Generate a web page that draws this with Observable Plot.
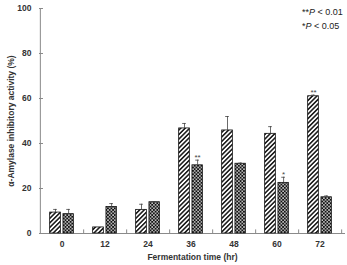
<!DOCTYPE html>
<html><head><meta charset="utf-8">
<script src="https://cdn.jsdelivr.net/npm/d3@7"></script>
<script src="https://cdn.jsdelivr.net/npm/@observablehq/plot@0.6"></script>
<style>
body{margin:0;background:#fff;}
#wrap{position:relative;width:347px;height:265px;}
#note{position:absolute;left:302px;top:5px;font:9px "Liberation Sans",Arial,sans-serif;color:#222;line-height:14px;}
</style>
</head><body>
<div id="wrap"><div id="chart"></div>
<div id="note"><div>**<i>P</i> &lt; 0.01</div><div>*<i>P</i> &lt; 0.05</div></div></div>
<script>
const times = ["0","12","24","36","48","60","72"];
const hatched = [9.3, 2.7, 10.5, 46.7, 45.8, 44.3, 61.0];
const hatchedErr = [1.4, 0, 2.5, 2.2, 6.2, 3.2, 0.5];
const checker = [8.6, 11.8, 13.9, 30.3, 31.0, 22.5, 16.1];
const checkerErr = [2.1, 1.5, 0.3, 2.3, 0.3, 2.5, 0.6];
const sigTime = ["36", "60", "72"];
const sigSeries = ["checker", "checker", "hatched"];
const sigMark = ["**", "*", "**"];
const yTicks = [0, 20, 40, 60, 80, 100];

const rows = [];
times.forEach((t, i) => {
  rows.push({time: t, series: "hatched", v: hatched[i], e: hatchedErr[i]});
  rows.push({time: t, series: "checker", v: checker[i], e: checkerErr[i]});
});
const H = rows.filter(d => d.series === "hatched");
const C = rows.filter(d => d.series === "checker");
const sig = sigTime.map((t, i) => {
  const r = rows.find(d => d.time === t && d.series === sigSeries[i]);
  return {time: t, series: sigSeries[i], top: r.v + r.e, mark: sigMark[i]};
});

const half = (342 - 39) / times.length / 2;
const gray = "#8a8a8a";
const font = "Liberation Sans, Arial, sans-serif";

const svg = Plot.plot({
  width: 347, height: 265,
  marginLeft: 39, marginRight: 2, marginTop: 8, marginBottom: 32,
  style: {fontFamily: font, background: "white"},
  x: {type: "band", domain: times, range: [39, 342], padding: 0, label: null},
  y: {domain: [0, 100], label: null},
  marks: [
    Plot.ruleY([0], {stroke: gray, strokeWidth: 1}),
    Plot.ruleX([times[0]], {x: d => d, dx: -half, y1: 0, y2: 100, stroke: gray}),
    Plot.ruleX(times, {x: d => d, dx: half, y1: 0, y2: 1.6, stroke: gray}),
    Plot.tickY(yTicks, {y: d => d, insetRight: 302, stroke: gray}),
    Plot.barY(H, {x: "time", y: "v", insetLeft: half - 12, insetRight: half + 1, fill: "url(#hatch)", stroke: "#111", strokeWidth: 0.8}),
    Plot.barY(C, {x: "time", y: "v", insetLeft: half + 1.3, insetRight: half - 12, fill: "url(#checker)", stroke: "#111", strokeWidth: 0.8}),
    Plot.ruleX(H.filter(d => d.e > 0), {x: "time", y1: "v", y2: d => d.v + d.e, dx: -6.5, stroke: "#444", strokeWidth: 0.8}),
    Plot.ruleX(C.filter(d => d.e > 0), {x: "time", y1: "v", y2: d => d.v + d.e, dx: 6.6, stroke: "#444", strokeWidth: 0.8}),
    Plot.tickY(H.filter(d => d.e > 0), {x: "time", y: d => d.v + d.e, insetLeft: half - 8.5, insetRight: half + 4.5, stroke: "#444", strokeWidth: 0.8}),
    Plot.tickY(C.filter(d => d.e > 0), {x: "time", y: d => d.v + d.e, insetLeft: half + 4.6, insetRight: half - 8.6, stroke: "#444", strokeWidth: 0.8}),
    Plot.text(sig.filter(d => d.series === "hatched"), {x: "time", y: "top", text: "mark", dx: -6.5, lineAnchor: "bottom", dy: 0, fontSize: 8, fill: "#444"}),
    Plot.text(sig.filter(d => d.series === "checker"), {x: "time", y: "top", text: "mark", dx: 6.6, lineAnchor: "bottom", dy: 0, fontSize: 8, fill: "#444"}),
    Plot.axisY(yTicks, {tickSize: 0, tickPadding: 8, fontSize: 8.5, fontWeight: "bold", fill: "#333",
      label: "α-Amylase inhibitory activity (%)", labelAnchor: "center", labelArrow: "none", labelOffset: 32}),
    Plot.axisX({tickSize: 0, tickPadding: 7, fontSize: 8.5, fontWeight: "bold", fill: "#333",
      label: "Fermentation time (hr)", labelAnchor: "center", labelArrow: "none", labelOffset: 26})
  ]
});

const defs = d3.select(svg).insert("defs", ":first-child");
const ph = defs.append("pattern").attr("id", "hatch").attr("patternUnits", "userSpaceOnUse")
  .attr("width", 3.2).attr("height", 3.2).attr("patternTransform", "rotate(45)");
ph.append("rect").attr("width", 3.2).attr("height", 3.2).attr("fill", "#fff");
ph.append("line").attr("x1", 0.8).attr("y1", 0).attr("x2", 0.8).attr("y2", 3.2).attr("stroke", "#111").attr("stroke-width", 1.5);
const pc = defs.append("pattern").attr("id", "checker").attr("patternUnits", "userSpaceOnUse")
  .attr("width", 3.4).attr("height", 3.4);
pc.append("rect").attr("width", 3.4).attr("height", 3.4).attr("fill", "#111");
pc.append("rect").attr("x", 0.2).attr("y", 0.2).attr("width", 1.4).attr("height", 1.4).attr("fill", "#fff");
pc.append("rect").attr("x", 1.9).attr("y", 1.9).attr("width", 1.4).attr("height", 1.4).attr("fill", "#fff");

document.getElementById("chart").appendChild(svg);
</script>
</body></html>
